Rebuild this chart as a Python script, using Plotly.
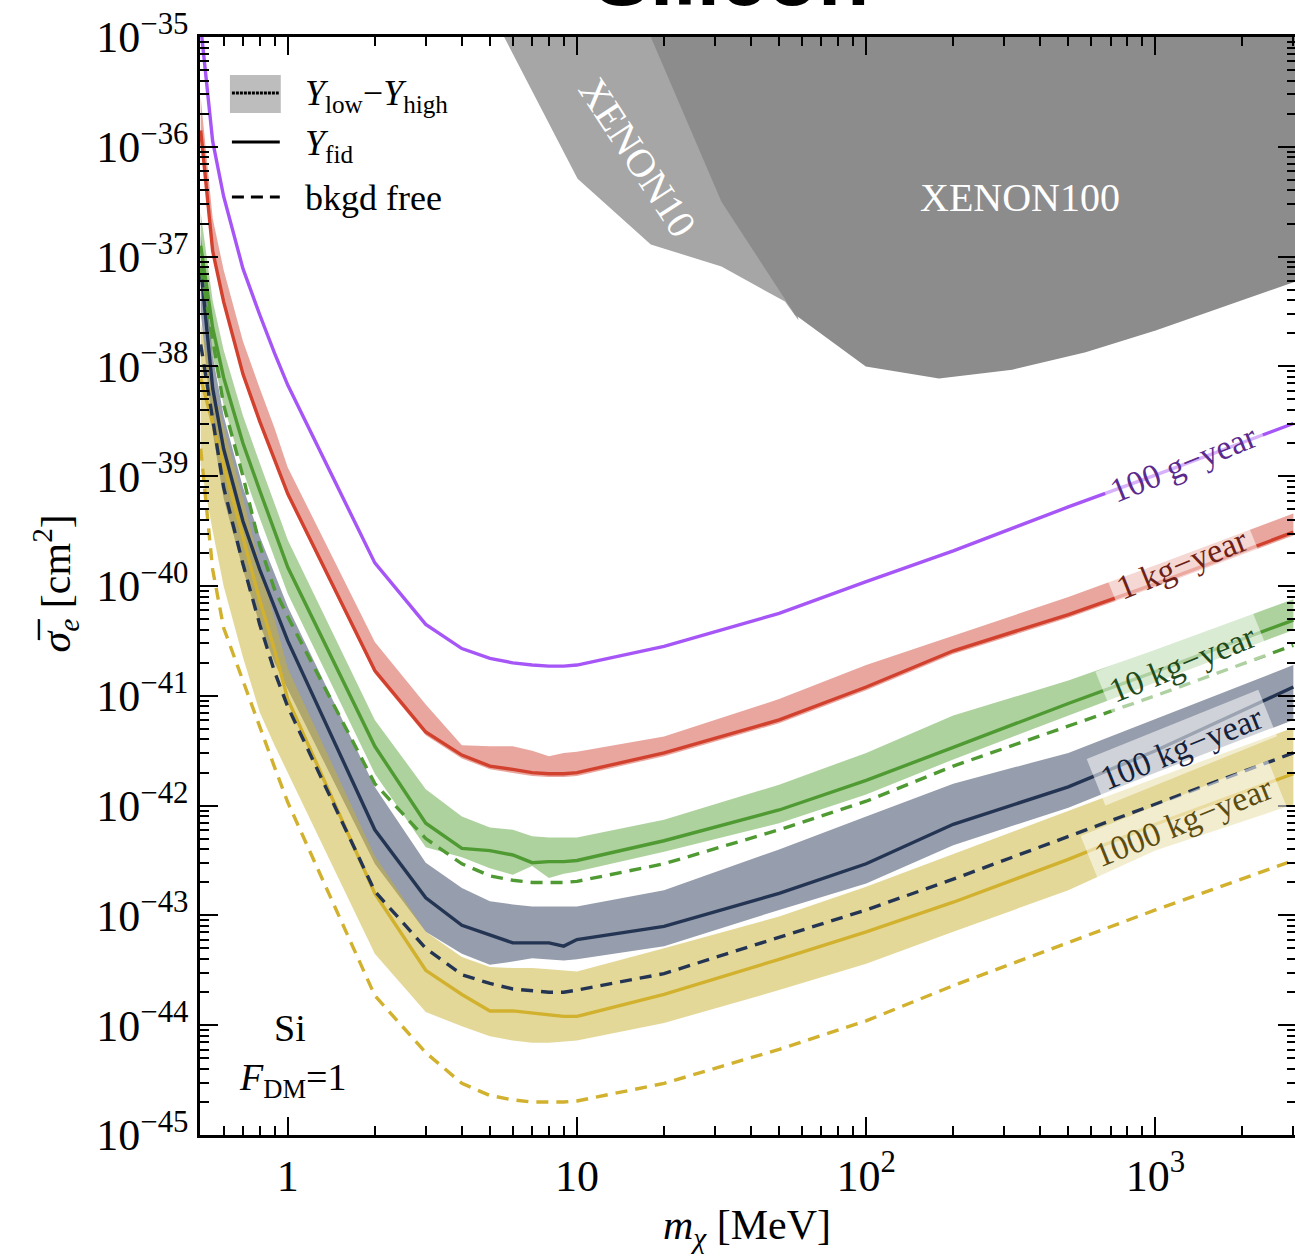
import numpy as np
import plotly.graph_objects as go

# ---------------- data (log10 of sigma_e in cm^2) ----------------
mass = [0.5, 0.55, 0.6, 0.7, 0.8, 0.9, 1, 2, 3, 4, 5, 6, 7, 8, 9, 10, 20, 50, 100, 200, 500, 1000, 3000]

g100_line = [-34.9, -35.95, -36.45, -37.11, -37.53, -37.88, -38.17, -39.79, -40.35, -40.57, -40.66, -40.70, -40.72, -40.73, -40.73, -40.72, -40.55, -40.25, -39.96, -39.68, -39.28, -38.99, -38.52]

kg1_line = [-35.85, -36.95, -37.41, -38.07, -38.50, -38.84, -39.16, -40.77, -41.33, -41.54, -41.64, -41.67, -41.70, -41.71, -41.71, -41.70, -41.52, -41.22, -40.92, -40.59, -40.26, -39.98, -39.51]
kg1_high = [-35.55, -36.65, -37.12, -37.77, -38.20, -38.56, -38.92, -40.51, -41.08, -41.45, -41.46, -41.46, -41.50, -41.55, -41.52, -41.51, -41.37, -41.03, -40.72, -40.45, -40.10, -39.81, -39.34]
kg1_low = [-35.88, -36.98, -37.44, -38.10, -38.53, -38.87, -39.19, -40.80, -41.36, -41.57, -41.67, -41.70, -41.73, -41.74, -41.74, -41.73, -41.55, -41.25, -40.95, -40.62, -40.29, -40.01, -39.54]

kg10_line = [-36.9, -37.65, -38.10, -38.70, -39.13, -39.50, -39.83, -41.46, -42.16, -42.39, -42.41, -42.45, -42.52, -42.51, -42.51, -42.50, -42.32, -42.04, -41.77, -41.47, -41.07, -40.78, -40.31]
kg10_high = [-36.6, -37.40, -37.85, -38.45, -38.88, -39.25, -39.58, -41.22, -41.85, -42.10, -42.20, -42.22, -42.28, -42.29, -42.29, -42.29, -42.13, -41.81, -41.52, -41.18, -40.86, -40.58, -40.12]
kg10_low = [-37.15, -37.90, -38.35, -38.95, -39.38, -39.75, -40.07, -41.71, -42.38, -42.47, -42.57, -42.63, -42.55, -42.66, -42.62, -42.60, -42.42, -42.16, -41.90, -41.58, -41.18, -40.88, -40.40]
kg10_free = [-37.1, -37.75, -38.35, -39.00, -39.63, -40.03, -40.28, -41.80, -42.30, -42.53, -42.64, -42.68, -42.70, -42.70, -42.70, -42.69, -42.53, -42.22, -41.96, -41.64, -41.28, -41.00, -40.54]

kg100_line = [-37.1, -38.20, -38.75, -39.41, -39.85, -40.20, -40.50, -42.22, -42.84, -43.09, -43.18, -43.25, -43.25, -43.25, -43.28, -43.22, -43.10, -42.80, -42.53, -42.17, -41.83, -41.50, -40.92]
kg100_high = [-36.8, -37.90, -38.45, -39.10, -39.55, -39.88, -40.19, -41.83, -42.52, -42.75, -42.87, -42.90, -42.92, -42.92, -42.92, -42.92, -42.77, -42.40, -42.10, -41.80, -41.52, -41.21, -40.72]
kg100_low = [-37.5, -38.60, -39.20, -39.85, -40.35, -40.70, -40.95, -42.53, -43.15, -43.35, -43.45, -43.42, -43.39, -43.40, -43.41, -43.40, -43.28, -42.95, -42.71, -42.36, -42.02, -41.70, -41.22]
kg100_free = [-37.8, -38.50, -39.10, -39.80, -40.35, -40.78, -41.10, -42.78, -43.30, -43.54, -43.62, -43.67, -43.69, -43.70, -43.70, -43.68, -43.53, -43.20, -42.95, -42.67, -42.28, -41.99, -41.52]

kg1000_line = [-38.11, -38.52, -38.89, -39.55, -40.13, -40.58, -41.03, -42.80, -43.50, -43.72, -43.87, -43.87, -43.89, -43.91, -43.92, -43.92, -43.72, -43.40, -43.15, -42.88, -42.49, -42.17, -41.71]
kg1000_high = [-37.6, -38.15, -38.55, -39.20, -39.80, -40.30, -40.75, -42.46, -43.15, -43.38, -43.47, -43.48, -43.48, -43.49, -43.50, -43.51, -43.30, -43.01, -42.74, -42.44, -42.05, -41.75, -41.29]
kg1000_low = [-38.9, -39.50, -40.00, -40.65, -41.15, -41.45, -41.70, -43.35, -43.88, -44.01, -44.10, -44.14, -44.16, -44.16, -44.15, -44.14, -43.98, -43.68, -43.44, -43.15, -42.77, -42.41, -41.99]
kg1000_free = [-38.75, -39.85, -40.38, -40.87, -41.28, -41.65, -41.97, -43.73, -44.25, -44.53, -44.64, -44.68, -44.70, -44.70, -44.70, -44.69, -44.53, -44.22, -43.96, -43.64, -43.25, -42.95, -42.50]

xenon10_mass = [5.6, 10.05, 18.0, 31.6, 52.4, 58.3, 42.4]
xenon10_sigma = [-35.0, -36.29, -36.89, -37.09, -37.41, -37.58, -35.0]
xenon100_mass = [18.0, 31.6, 56.8, 99.7, 178.6, 320, 574, 1008, 3100, 3100]
xenon100_sigma = [-35.0, -36.5, -37.53, -38.0, -38.11, -38.03, -37.87, -37.67, -37.22, -35.0]

x_tickvals = [1, 10, 100, 1000]
x_ticktext = ["1", "10", "10<sup>2</sup>", "10<sup>3</sup>"]
y_exponents = list(range(-45, -34))

SERIF = "Liberation Serif, Times New Roman, serif"

def sig(v):
    return [10.0 ** a for a in v]

fig = go.Figure()

# exclusion regions
fig.add_trace(go.Scatter(x=xenon10_mass, y=sig(xenon10_sigma), fill="toself", mode="lines",
                         line=dict(width=0), fillcolor="#a6a6a6", hoverinfo="skip"))
fig.add_trace(go.Scatter(x=xenon100_mass, y=sig(xenon100_sigma), fill="toself", mode="lines",
                         line=dict(width=0), fillcolor="#8c8c8c", hoverinfo="skip"))

bands = [
    (kg1_high, kg1_low, "rgba(212,78,62,0.5)"),
    (kg10_high, kg10_low, "rgba(92,166,62,0.5)"),
    (kg100_high, kg100_low, "rgba(45,60,90,0.5)"),
    (kg1000_high, kg1000_low, "rgba(201,177,49,0.5)"),
]
for hi, lo, col in bands:
    fig.add_trace(go.Scatter(x=mass + mass[::-1], y=sig(hi) + sig(lo)[::-1], fill="toself",
                             mode="lines", line=dict(width=0), fillcolor=col, hoverinfo="skip"))

lines = [
    (g100_line, "#a656f7"),
    (kg1_line, "#d2412e"),
    (kg10_line, "#4f9a32"),
    (kg100_line, "#243553"),
    (kg1000_line, "#d1b12e"),
]
for v, col in lines:
    fig.add_trace(go.Scatter(x=mass, y=sig(v), mode="lines", line=dict(color=col, width=3.4)))

dashes = [
    (kg10_free, "#4f9a32"),
    (kg100_free, "#243553"),
    (kg1000_free, "#d1b12e"),
]
for v, col in dashes:
    fig.add_trace(go.Scatter(x=mass, y=sig(v), mode="lines",
                             line=dict(color=col, width=3.4, dash="12px,8px")))

# ---------------- layout helpers ----------------
W, H = 1299, 1257
L, R, T, B = 200, 1299, 37, 1135
X_ONE, X_DEC = 288, 290          # pixel of m=1 and pixels per decade
def px(p):
    return (p - L) / (R - L)
def py(p):
    return (B - p) / (B - T)

annotations = []
shapes = []

# title (partially cut at the top of the page)
annotations.append(dict(text="<b>Silicon</b>", xref="paper", yref="paper", x=px(733), y=1,
                        xanchor="center", yanchor="bottom", yshift=12, showarrow=False,
                        font=dict(family="Liberation Sans, Arial, sans-serif", size=84, color="black")))

# axis titles
annotations.append(dict(text="<i>m<sub>χ</sub></i> [MeV]", xref="paper", yref="paper",
                        x=px(748), y=py(1228), xanchor="center", yanchor="middle", showarrow=False,
                        font=dict(family=SERIF, size=42, color="black")))
annotations.append(dict(text="<i>σ̅<sub>e</sub></i> [cm<sup>2</sup>]", xref="paper", yref="paper",
                        x=px(55), y=py(583), xanchor="center", yanchor="middle", showarrow=False,
                        textangle=-90, font=dict(family=SERIF, size=42, color="black")))

# XENON labels
annotations.append(dict(text="XENON100", xref="paper", yref="paper", x=px(1022), y=py(198),
                        xanchor="center", yanchor="middle", showarrow=False,
                        font=dict(family=SERIF, size=40, color="white")))
annotations.append(dict(text="XENON10", xref="paper", yref="paper", x=px(639), y=py(157),
                        xanchor="center", yanchor="middle", showarrow=False, textangle=57,
                        font=dict(family=SERIF, size=40, color="white")))

# Si / F_DM
annotations.append(dict(text="Si", xref="paper", yref="paper", x=px(290), y=py(1028),
                        xanchor="center", yanchor="middle", showarrow=False,
                        font=dict(family=SERIF, size=38, color="black")))
annotations.append(dict(text="<i>F</i><sub>DM</sub>=1", xref="paper", yref="paper", x=px(293), y=py(1080),
                        xanchor="center", yanchor="middle", showarrow=False,
                        font=dict(family=SERIF, size=38, color="black")))

# curve labels
curve_labels = [
    ("100 g−year", 1186, 463, "#5a2a8c"),
    ("1 kg−year", 1185, 563, "#6e1f16"),
    ("10 kg−year", 1185, 663, "#1f4a1a"),
    ("100 kg−year", 1185, 748, "#15213a"),
    ("1000 kg−year", 1186, 821, "#5c4c10"),
]
for txt, cx, cy, col in curve_labels:
    annotations.append(dict(text=txt, xref="paper", yref="paper", x=px(cx), y=py(cy),
                            xanchor="center", yanchor="middle", showarrow=False, textangle=-22,
                            bgcolor="rgba(255,255,255,0.55)", borderpad=6,
                            font=dict(family=SERIF, size=34, color=col)))

# legend (manual)
shapes.append(dict(type="rect", xref="paper", yref="paper", x0=px(230), x1=px(281), y0=py(113), y1=py(75),
                   fillcolor="#bdbdbd", line=dict(width=0), layer="above"))
shapes.append(dict(type="line", xref="paper", yref="paper", x0=px(232), x1=px(279), y0=py(93), y1=py(93),
                   line=dict(color="black", width=3, dash="3px,1px"), layer="above"))
shapes.append(dict(type="line", xref="paper", yref="paper", x0=px(232), x1=px(280), y0=py(142), y1=py(142),
                   line=dict(color="black", width=3), layer="above"))
shapes.append(dict(type="line", xref="paper", yref="paper", x0=px(232), x1=px(280), y0=py(197), y1=py(197),
                   line=dict(color="black", width=3, dash="12px,7px"), layer="above"))
legend_texts = [
    ("<i>Y</i><sub>low</sub>−<i>Y</i><sub>high</sub>", 95),
    ("<i>Y</i><sub>fid</sub>", 146),
    ("bkgd free", 198),
]
for txt, cy in legend_texts:
    annotations.append(dict(text=txt, xref="paper", yref="paper", x=px(303), y=py(cy),
                            xanchor="left", yanchor="middle", showarrow=False,
                            font=dict(family=SERIF, size=36, color="black")))

minor_x = [k * 10.0 ** e for e in range(-1, 4) for k in range(2, 10) if 0.5 <= k * 10.0 ** e <= 3000]
minor_y = [k * 10.0 ** e for e in range(-45, -35) for k in range(2, 10)]

axis_common = dict(type="log", showline=True, linecolor="black", linewidth=2.5, mirror="allticks",
                   ticks="inside", ticklen=18, tickwidth=2, tickcolor="black", showgrid=False,
                   zeroline=False, tickfont=dict(family=SERIF, size=44, color="black"))

fig.update_layout(
    width=W, height=H,
    margin=dict(l=L, r=W - R, t=T, b=H - B),
    paper_bgcolor="white", plot_bgcolor="white",
    showlegend=False,
    xaxis=dict(range=[(L - X_ONE) / X_DEC, (R - X_ONE) / X_DEC], tickmode="array", tickvals=x_tickvals,
               ticktext=x_ticktext,
               minor=dict(tickmode="array", tickvals=minor_x, ticks="inside", ticklen=9,
                          tickwidth=1.5, tickcolor="black", showgrid=False),
               **axis_common),
    yaxis=dict(range=[-45, -35], tickmode="array", tickvals=[10.0 ** e for e in y_exponents],
               ticktext=["10<sup>−%d</sup>" % (-e) for e in y_exponents],
               minor=dict(tickmode="array", tickvals=minor_y, ticks="inside", ticklen=9,
                          tickwidth=1.5, tickcolor="black", showgrid=False),
               **axis_common),
    annotations=annotations,
    shapes=shapes,
)

fig.write_html("out.html", config={"displayModeBar": False},
               post_script="document.body.style.margin='0px';document.body.style.overflow='hidden';")
